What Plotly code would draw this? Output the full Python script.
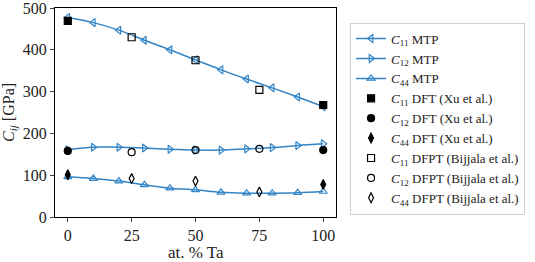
import plotly.graph_objects as go

x_mtp = [0, 10, 20, 30, 40, 50, 60, 70, 80, 90, 100]
c11_mtp = [477, 465, 447, 423, 400, 376, 352, 330, 309, 287, 264]
c12_mtp = [161, 167, 167, 165, 162, 160, 160, 163, 166, 171, 175]
c44_mtp = [96, 92, 86, 77, 69, 65, 59, 57, 57, 58, 61]

x_xu = [0, 100]
c11_xu = [469, 268]
c12_xu = [158, 160]
c44_xu = [101, 78]

x_bij = [25, 50, 75]
c11_bij = [430, 375, 304]
c12_bij = [155, 160, 163]
c44_bij = [92, 86, 60]

x_ticks = [0, 25, 50, 75, 100]
y_ticks = [0, 100, 200, 300, 400, 500]

blue = "#3384c6"
font = "Liberation Serif"

fig = go.Figure()

for y, sym, name in [
    (c11_mtp, "triangle-left-open", "<i>C</i><sub>11</sub> MTP"),
    (c12_mtp, "triangle-right-open", "<i>C</i><sub>12</sub> MTP"),
    (c44_mtp, "triangle-up-open", "<i>C</i><sub>44</sub> MTP"),
]:
    fig.add_trace(go.Scatter(
        x=x_mtp, y=y, mode="lines+markers", name=name,
        line=dict(color=blue, width=1.5, shape="spline"),
        marker=dict(symbol=sym, size=7, color=blue, line=dict(width=1.2, color=blue)),
    ))

for xs, y, sym, name in [
    (x_xu, c11_xu, "square", "<i>C</i><sub>11</sub> DFT (Xu et al.)"),
    (x_xu, c12_xu, "circle", "<i>C</i><sub>12</sub> DFT (Xu et al.)"),
    (x_xu, c44_xu, "diamond-tall", "<i>C</i><sub>44</sub> DFT (Xu et al.)"),
    (x_bij, c11_bij, "square-open", "<i>C</i><sub>11</sub> DFPT (Bijjala et al.)"),
    (x_bij, c12_bij, "circle-open", "<i>C</i><sub>12</sub> DFPT (Bijjala et al.)"),
    (x_bij, c44_bij, "diamond-tall-open", "<i>C</i><sub>44</sub> DFPT (Bijjala et al.)"),
]:
    fig.add_trace(go.Scatter(
        x=xs, y=y, mode="markers", name=name,
        marker=dict(symbol=sym, size=7, color="black", line=dict(width=1.2, color="black")),
    ))

fig.update_layout(
    width=535, height=262,
    margin=dict(l=55, r=199, t=8, b=45, autoexpand=False),
    paper_bgcolor="white", plot_bgcolor="white",
    font=dict(family=font, size=16, color="#222"),
    showlegend=True,
    legend=dict(
        x=1.05, y=0.93, xanchor="left", yanchor="top",
        bgcolor="white", bordercolor="#d0d0d0", borderwidth=1,
        font=dict(family=font, size=13, color="#222"),
        tracegroupgap=0, itemwidth=30,
    ),
    xaxis=dict(
        range=[-5, 105], tickvals=x_ticks, ticks="outside", ticklen=4,
        showline=True, linecolor="black", linewidth=1, mirror=True,
        showgrid=False, zeroline=False, automargin=False,
        tickfont=dict(size=16), ticklabeloverflow="allow",
    ),
    yaxis=dict(
        range=[0, 500], tickvals=y_ticks, ticks="outside", ticklen=4,
        showline=True, linecolor="black", linewidth=1, mirror=True,
        showgrid=False, zeroline=False, automargin=False,
        title=dict(text="<i>C<sub>ij</sub></i> [GPa]", standoff=6, font=dict(size=16)),
        tickfont=dict(size=16), ticklabeloverflow="allow",
    ),
    annotations=[dict(
        text="at. % Ta", x=50, xref="x", y=-0.172, yref="paper",
        xanchor="center", yanchor="middle", showarrow=False,
        font=dict(family=font, size=17, color="#222"),
    )],
)

fig.write_html("out.html", config={"displayModeBar": False},
               post_script="document.body.style.margin='0';")
